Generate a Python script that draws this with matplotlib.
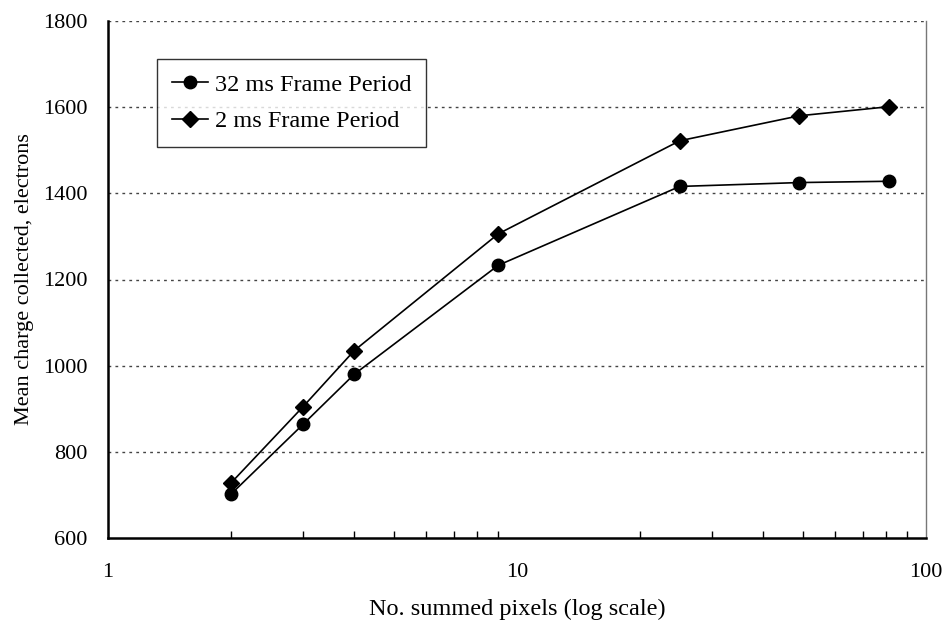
import numpy as np
import matplotlib.pyplot as plt
from matplotlib.ticker import FixedLocator, NullFormatter

plt.rcParams['font.family'] = ['Liberation Serif', 'DejaVu Serif']

# summed pixel counts (2x2, 3x3 ... binning => 2,3,4,9,25,49,81)
piksel = [2, 3, 4, 9, 25, 49, 81]
yuk_32ms = [702, 864, 980, 1233, 1416, 1425, 1428]
yuk_2ms = [728, 905, 1035, 1306, 1522, 1580, 1601]

fig = plt.figure(figsize=(9.47, 6.26), dpi=100)
ax = fig.add_axes([108 / 947, (626 - 538) / 626, 818 / 947, 517 / 626])

ax.plot(piksel, yuk_32ms, color='black', linewidth=1.2, marker='o',
        markersize=9, label='32 ms Frame Period')
ax.plot(piksel, yuk_2ms, color='black', linewidth=1.2, marker='D',
        markersize=8, label='2 ms Frame Period')

ax.set_xscale('log')
ax.set_xlim(1, 100)
ax.set_ylim(600, 1800)
ax.set_yticks(np.arange(600, 1801, 200))
ax.set_xticks([1, 10, 100])
ax.set_xticklabels(['1', '10', '100'])
ax.xaxis.set_minor_locator(FixedLocator([k * d for d in (1, 10) for k in range(2, 10)]))
ax.xaxis.set_minor_formatter(NullFormatter())

ax.tick_params(axis='x', which='major', direction='in', length=0, labelsize=16, pad=18)
ax.tick_params(axis='x', which='minor', direction='in', length=5, width=1)
ax.tick_params(axis='y', which='major', length=0, labelsize=16, pad=15)

for y in range(800, 1801, 200):
    ax.axhline(y, color='#444444', linewidth=1, linestyle=(0, (2, 3)), zorder=0)

ax.spines['left'].set_linewidth(1.8)
ax.spines['bottom'].set_linewidth(1.8)
ax.spines['top'].set_visible(False)
ax.spines['right'].set_color('#777777')
ax.spines['right'].set_linewidth(1)

ax.set_xlabel('No. summed pixels (log scale)', fontsize=17.5, labelpad=12)
ax.set_ylabel('Mean charge collected, electrons', fontsize=16, labelpad=6)

leg = ax.legend(loc='upper left', bbox_to_anchor=(0.06, 0.926), fontsize=17.5,
                frameon=True, fancybox=False, edgecolor='black',
                borderaxespad=0, handlelength=1.5, handletextpad=0.3,
                borderpad=0.6, labelspacing=0.6)
leg.get_frame().set_linewidth(1)

fig.savefig('out.png', dpi=100)
